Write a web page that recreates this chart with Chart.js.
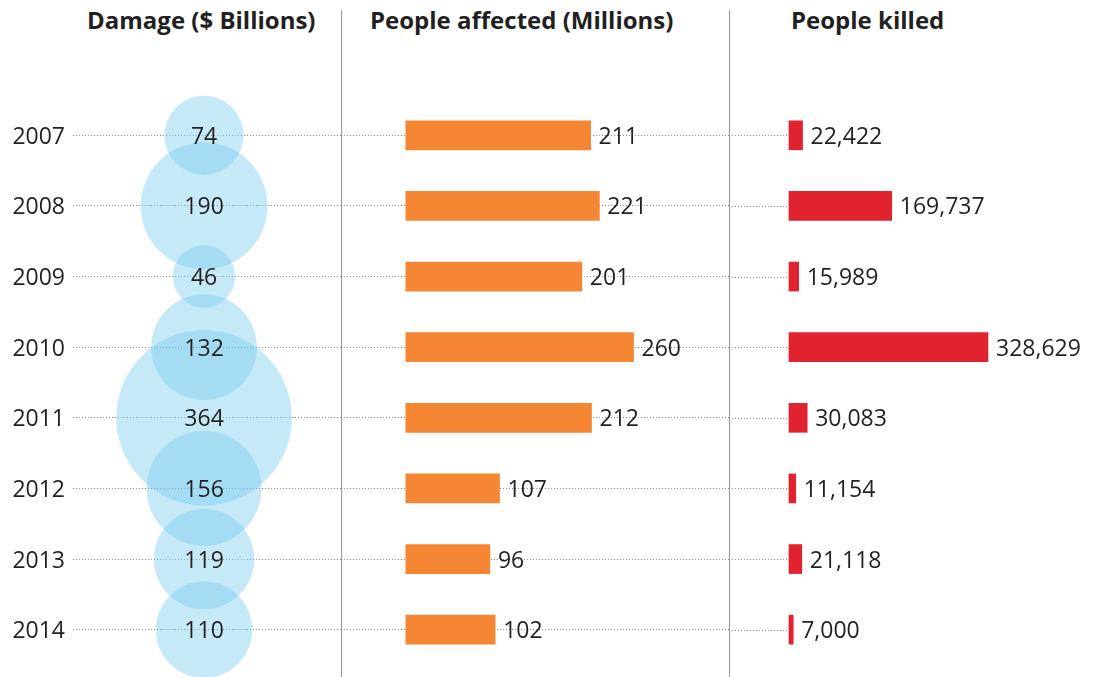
<!DOCTYPE html>
<html>
<head>
<meta charset="utf-8">
<script src="https://cdn.jsdelivr.net/npm/chart.js@4/dist/chart.umd.min.js"></script>
<style>
  body { margin: 0; background: #fff; }
  #wrap { position: relative; width: 1093px; height: 677px; overflow: hidden; }
  canvas { position: absolute; top: 0; }
  .title { position: absolute; top: 3px; font: bold 24px "Open Sans", sans-serif; color: #231f20; white-space: nowrap; }
</style>
</head>
<body>
<div id="wrap">
  <div class="title" style="left:87px">Damage ($ Billions)</div>
  <div class="title" style="left:370px">People affected (Millions)</div>
  <div class="title" style="left:791px">People killed</div>
  <canvas id="damageChart" width="341" height="677" style="left:0"></canvas>
  <canvas id="affectedChart" width="388" height="677" style="left:341px"></canvas>
  <canvas id="killedChart" width="364" height="677" style="left:729px"></canvas>
</div>
<script>
// data
const years = ['2007', '2008', '2009', '2010', '2011', '2012', '2013', '2014'];
const damage = [74, 190, 46, 132, 364, 156, 119, 110];
const affected = [211, 221, 201, 260, 212, 107, 96, 102];
const killed = [22422, 169737, 15989, 328629, 30083, 11154, 21118, 7000];

const textColor = '#231f20';
const font = { family: '"Open Sans", sans-serif', size: 23 };
const dotColor = '#8c8c8c';

// writes the values on the marks
const valueLabels = {
    id: 'valueLabels',
    afterDatasetsDraw(chart, args, opts) {
        const ctx = chart.ctx;
        const meta = chart.getDatasetMeta(0);
        const values = chart.data.datasets[0].values;
        ctx.save();
        ctx.font = font.size + 'px ' + font.family;
        ctx.fillStyle = textColor;
        ctx.textBaseline = 'middle';
        meta.data.forEach((el, i) => {
            const txt = values[i].toLocaleString('en-US');
            if (opts.center) {
                ctx.textAlign = 'center';
                ctx.fillText(txt, el.x, el.y + 2);
            } else {
                ctx.textAlign = 'left';
                ctx.fillText(txt, el.x + 8, el.y + 2);
            }
        });
        ctx.restore();
    }
};

// grey rule between the panels
const separator = {
    id: 'separator',
    beforeDraw(chart) {
        const ctx = chart.ctx;
        const x = chart.chartArea.left + 0.5;
        ctx.save();
        ctx.strokeStyle = '#9b9b9b';
        ctx.lineWidth = 1.2;
        ctx.beginPath();
        ctx.moveTo(x, 10);
        ctx.lineTo(x, chart.height);
        ctx.stroke();
        ctx.restore();
    }
};

// dotted row lines that stop where the bars start
const shortRows = {
    id: 'shortRows',
    beforeDatasetsDraw(chart) {
        const ctx = chart.ctx;
        const yScale = chart.scales.y;
        const end = chart.scales.x.getPixelForValue(0);
        ctx.save();
        ctx.strokeStyle = dotColor;
        ctx.lineWidth = 1;
        ctx.setLineDash([1, 2]);
        years.forEach((y, i) => {
            const py = Math.round(yScale.getPixelForValue(i)) + 0.5;
            ctx.beginPath();
            ctx.moveTo(chart.chartArea.left, py);
            ctx.lineTo(end, py);
            ctx.stroke();
        });
        ctx.restore();
    }
};

function yAxis(showLabels, width) {
    return {
        type: 'category',
        labels: years,
        offset: true,
        ticks: { display: showLabels, color: textColor, font: font, padding: 8, labelOffset: 2 },
        grid: { offset: false, drawTicks: false, color: dotColor, lineWidth: 1 },
        border: { display: false, dash: [1, 2] },
        afterFit: function (scale) {
            scale.width = width;
            // rows are centred in their bands, labels never overflow
            scale.paddingTop = 0;
            scale.paddingBottom = 0;
        }
    };
}

const baseOptions = {
    responsive: false,
    animation: false,
    layout: { autoPadding: false, padding: { top: 100, bottom: 12, left: 0, right: 0 } },
    plugins: {
        legend: { display: false },
        tooltip: { enabled: false }
    }
};

new Chart(document.getElementById('damageChart'), {
    type: 'bubble',
    data: {
        datasets: [{
            data: damage.map((v, i) => ({ x: 0, y: years[i], r: 4.6 * Math.sqrt(v) })),
            values: damage,
            backgroundColor: 'rgba(115, 202, 236, 0.41)',
            borderWidth: 0,
            clip: false
        }]
    },
    options: Object.assign({}, baseOptions, {
        scales: {
            x: { type: 'linear', display: false, min: -1, max: 1.045 },
            y: yAxis(true, 73)
        },
        plugins: Object.assign({}, baseOptions.plugins, { valueLabels: { center: true } })
    }),
    plugins: [valueLabels]
});

new Chart(document.getElementById('affectedChart'), {
    type: 'bar',
    data: {
        labels: years,
        datasets: [{
            data: affected,
            values: affected,
            backgroundColor: '#f58634',
            barThickness: 29
        }]
    },
    options: Object.assign({}, baseOptions, {
        indexAxis: 'y',
        scales: {
            x: { display: false, min: -74, max: 369 },
            y: yAxis(false, 0)
        }
    }),
    plugins: [separator, valueLabels]
});

const killedY = yAxis(false, 0);
killedY.grid.display = false;

new Chart(document.getElementById('killedChart'), {
    type: 'bar',
    data: {
        labels: years,
        datasets: [{
            data: killed,
            values: killed,
            backgroundColor: '#e0232f',
            barThickness: 29
        }]
    },
    options: Object.assign({}, baseOptions, {
        indexAxis: 'y',
        scales: {
            x: { display: false, min: -99000, max: 502000 },
            y: killedY
        }
    }),
    plugins: [separator, shortRows, valueLabels]
});
</script>
</body>
</html>
